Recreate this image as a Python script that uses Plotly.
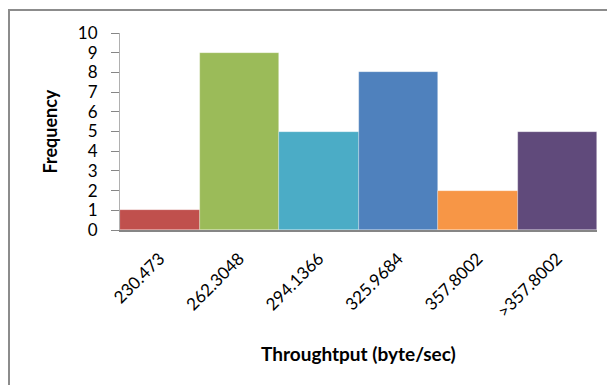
import plotly.graph_objects as go

# Histogram bins (upper bound of each throughput class) and their counts
bins = ["230.473", "262.3048", "294.1366", "325.9684", "357.8002", ">357.8002"]
frequency = [1, 9, 5, 8, 2, 5]
bar_colors = ["#C0504D", "#9BBB59", "#4BACC6", "#4F81BD", "#F79646", "#604A7B"]
y_ticks = list(range(0, 11))

FONT = "Lato"

fig = go.Figure(
    go.Bar(
        x=bins,
        y=frequency,
        marker=dict(color=bar_colors, line=dict(color="rgba(255,255,255,0.45)", width=0.6)),
        width=1.0,
    )
)

fig.update_layout(
    width=607,
    height=385,
    margin=dict(l=120, r=10, t=33, b=155),
    paper_bgcolor="white",
    plot_bgcolor="white",
    showlegend=False,
    bargap=0,
    font=dict(family=FONT, size=17, color="black"),
    xaxis=dict(
        type="category",
        tickangle=-45,
        showline=True,
        linecolor="#868686",
        linewidth=2,
        ticks="",
        showgrid=False,
        ticklabelstandoff=10,
        tickfont=dict(family=FONT, size=17),
    ),
    yaxis=dict(
        range=[0, 10],
        tickvals=y_ticks,
        showline=True,
        linecolor="#B0B0B0",
        linewidth=1,
        ticks="outside",
        ticklen=8,
        tickcolor="#868686",
        showgrid=False,
        zeroline=False,
        ticklabelstandoff=10,
        tickfont=dict(family=FONT, size=17),
    ),
    shapes=[
        dict(
            type="rect", xref="paper", yref="paper",
            x0=-111 / 477, x1=1.1, y0=-1.0, y1=1 + 23 / 197,
            line=dict(color="#8C8C8C", width=2), fillcolor="rgba(0,0,0,0)",
            layer="below",
        )
    ],
    annotations=[
        dict(
            text="<b>Frequency</b>", xref="paper", yref="paper",
            x=-71 / 477, y=0.5, textangle=-90, showarrow=False,
            font=dict(family=FONT, size=18),
            xanchor="center", yanchor="middle",
        ),
        dict(
            text="<b>Throughtput (byte/sec)</b>", xref="paper", yref="paper",
            x=0.5, y=-123 / 197, showarrow=False,
            font=dict(family=FONT, size=19),
            xanchor="center", yanchor="middle",
        ),
    ],
)

fig.write_html("out.html")
